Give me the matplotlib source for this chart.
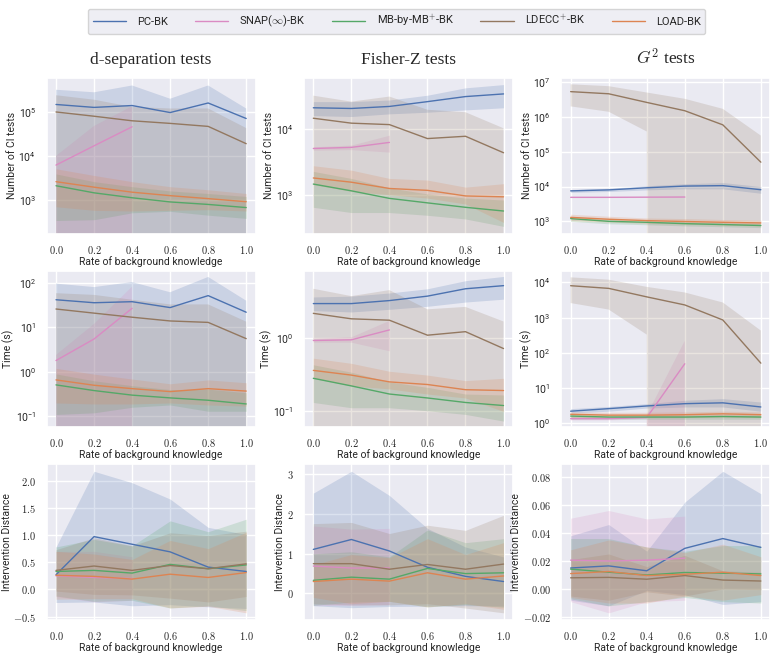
import matplotlib
matplotlib.use('Agg')
import matplotlib.pyplot as plt
import matplotlib.ticker as mticker
import seaborn as sns
import numpy as np

rate = [0.0, 0.2, 0.4, 0.6, 0.8, 1.0]
methods = ['PC-BK', 'SNAP($\\infty$)-BK', 'MB-by-MB$^{+}$-BK', 'LDECC$^{+}$-BK', 'LOAD-BK']
keys = ['pc', 'snap', 'mb', 'ldecc', 'load']

# each entry: (mean, lower, upper); 0 in a log panel means the band runs off the bottom
dsep_ci = {
    'pc':    ([1.48e5, 1.27e5, 1.4e5, 9.7e4, 1.6e5, 7.1e4], [0, 0, 0, 0, 0, 0], [3.2e5, 2.8e5, 4.0e5, 2.0e5, 4.0e5, 1.2e5]),
    'snap':  ([6.2e3, 1.7e4, 4.6e4], [0, 0, 0], [1.0e4, 4.8e4, 1.35e5]),
    'mb':    ([2.1e3, 1.45e3, 1.12e3, 900, 790, 670], [340, 355, 510, 550, 450, 380], [3.9e3, 2.6e3, 2.0e3, 1.6e3, 1.4e3, 1.2e3]),
    'ldecc': ([1.0e5, 8.0e4, 6.3e4, 5.5e4, 4.7e4, 1.9e4], [0, 0, 0, 0, 0, 0], [2.4e5, 1.9e5, 1.3e5, 1.2e5, 1.2e5, 4.3e4]),
    'load':  ([2.6e3, 1.95e3, 1.5e3, 1.25e3, 1.07e3, 910], [700, 580, 560, 580, 600, 560], [5.1e3, 3.6e3, 2.6e3, 2.0e3, 1.7e3, 1.4e3]),
}
fz_ci = {
    'pc':    ([2.1e4, 2.05e4, 2.2e4, 2.6e4, 3.1e4, 3.4e4], [1.6e4, 1.55e4, 1.7e4, 1.8e4, 1.95e4, 2.1e4], [2.6e4, 2.6e4, 2.75e4, 3.25e4, 4.2e4, 4.7e4]),
    'snap':  ([5.1e3, 5.3e3, 6.3e3], [4.8e3, 4.9e3, 4.5e3], [5.4e3, 5.75e3, 8.1e3]),
    'mb':    ([1.48e3, 1.17e3, 900, 770, 660, 580], [660, 550, 550, 500, 440, 340], [2.3e3, 1.8e3, 1.3e3, 1.05e3, 910, 850]),
    'ldecc': ([1.46e4, 1.23e4, 1.17e4, 7.2e3, 7.8e3, 4.4e3], [0, 0, 0, 0, 0, 0], [3.2e4, 2.6e4, 3.1e4, 1.96e4, 1.8e4, 1.03e4]),
    'load':  ([1.83e3, 1.58e3, 1.27e3, 1.19e3, 980, 950], [1.45e3, 1.15e3, 1.02e3, 910, 740, 390], [2.8e3, 2.4e3, 1.8e3, 1.7e3, 1.33e3, 1.5e3]),
}
g2_ci = {
    'pc':    ([7.5e3, 8.0e3, 9.2e3, 1.03e4, 1.06e4, 8.1e3], [6.8e3, 7.2e3, 8.0e3, 8.6e3, 8.6e3, 6.4e3], [8.2e3, 8.9e3, 1.05e4, 1.2e4, 1.3e4, 1.0e4]),
    'snap':  ([4.9e3, 4.9e3, 4.95e3, 5.0e3], [4.8e3, 4.8e3, 4.85e3, 4.9e3], [5.0e3, 5.0e3, 5.05e3, 5.1e3]),
    'mb':    ([1.2e3, 1.0e3, 940, 860, 810, 760], [1.0e3, 850, 800, 740, 700, 660], [1.4e3, 1.15e3, 1.08e3, 980, 920, 860]),
    'ldecc': ([5.3e6, 4.6e6, 2.6e6, 1.5e6, 5.9e5, 5.0e4], [2.0e6, 1.4e6, 3.8e5, 0, 0, 0], [8.6e6, 7.6e6, 5.0e6, 3.3e6, 1.7e6, 2.9e5]),
    'load':  ([1.3e3, 1.15e3, 1.05e3, 990, 940, 900], [1.05e3, 950, 870, 830, 780, 740], [1.6e3, 1.4e3, 1.25e3, 1.2e3, 1.13e3, 1.08e3]),
}
dsep_time = {
    'pc':    ([42, 36, 38, 28, 52, 22], [0, 0, 0, 0, 0, 0], [97, 81, 105, 62, 137, 40]),
    'snap':  ([1.8, 5.5, 27], [0, 0, 0], [2.4, 12, 83]),
    'mb':    ([0.51, 0.38, 0.30, 0.26, 0.23, 0.19], [0.11, 0.12, 0.16, 0.18, 0.13, 0.13], [0.9, 0.63, 0.49, 0.40, 0.41, 0.34]),
    'ldecc': ([26, 21, 17, 14, 13, 5.6], [0, 0, 0, 0, 0, 0], [59, 54, 42, 33, 33, 13.5]),
    'load':  ([0.66, 0.5, 0.42, 0.36, 0.42, 0.37], [0.2, 0.19, 0.19, 0.2, 0.18, 0.17], [1.2, 0.89, 0.69, 0.54, 0.66, 0.57]),
}
fz_time = {
    'pc':    ([3.0, 3.0, 3.3, 3.8, 4.8, 5.3], [2.4, 2.3, 2.5, 2.75, 3.15, 3.45], [3.7, 3.8, 4.2, 4.8, 6.2, 7.1]),
    'snap':  ([0.93, 0.95, 1.3], [0.88, 0.88, 0.67], [1.0, 1.05, 1.77]),
    'mb':    ([0.28, 0.22, 0.17, 0.15, 0.13, 0.118], [0.13, 0.11, 0.11, 0.10, 0.089, 0.072], [0.43, 0.34, 0.25, 0.21, 0.17, 0.165]),
    'ldecc': ([2.2, 1.85, 1.77, 1.1, 1.23, 0.72], [0, 0, 0, 0, 0, 0], [4.8, 3.8, 4.6, 2.5, 2.7, 1.7]),
    'load':  ([0.36, 0.31, 0.25, 0.23, 0.195, 0.19], [0.28, 0.22, 0.20, 0.17, 0.15, 0.098], [0.53, 0.45, 0.35, 0.31, 0.26, 0.28]),
}
g2_time = {
    'pc':    ([2.2, 2.6, 3.1, 3.6, 3.8, 2.9], [1.96, 2.2, 2.7, 2.9, 2.9, 2.2], [2.6, 3.0, 3.6, 4.5, 5.0, 4.0]),
    'snap':  ([1.35, 1.35, 1.45, 49], [1.2, 1.2, 1.3, 0], [1.5, 1.5, 1.7, 220]),
    'mb':    ([1.6, 1.5, 1.5, 1.5, 1.55, 1.5], [1.3, 1.3, 1.3, 1.3, 1.3, 1.3], [1.8, 1.75, 1.75, 1.75, 1.8, 1.75]),
    'ldecc': ([8100, 6800, 3900, 2300, 860, 51], [2600, 1700, 330, 0, 0, 0], [1.4e4, 1.2e4, 7500, 5200, 2700, 430]),
    'load':  ([1.8, 1.7, 1.7, 1.75, 1.85, 1.75], [1.45, 1.45, 1.45, 1.45, 1.5, 1.45], [2.1, 2.05, 2.05, 2.1, 2.2, 2.1]),
}
dsep_dist = {
    'pc':    ([0.27, 0.97, 0.83, 0.69, 0.41, 0.33], [-0.24, -0.23, -0.30, -0.28, -0.32, -0.35], [0.78, 2.17, 1.96, 1.66, 1.14, 1.01]),
    'snap':  ([0.25, 0.22, 0.20], [-0.13, -0.23, -0.20], [0.70, 0.70, 0.60]),
    'mb':    ([0.33, 0.35, 0.30, 0.46, 0.38, 0.45], [-0.12, -0.22, -0.20, -0.34, -0.30, -0.39], [0.78, 0.92, 0.80, 1.26, 1.06, 1.29]),
    'ldecc': ([0.35, 0.43, 0.35, 0.44, 0.38, 0.47], [-0.03, -0.09, -0.10, -0.16, -0.23, -0.13], [0.73, 0.95, 0.80, 1.04, 0.99, 1.07]),
    'load':  ([0.26, 0.24, 0.19, 0.28, 0.22, 0.31], [-0.18, -0.17, -0.17, -0.34, -0.31, -0.43], [0.70, 0.65, 0.55, 0.90, 0.75, 1.05]),
}
fz_dist = {
    'pc':    ([1.11, 1.36, 1.07, 0.66, 0.43, 0.30], [-0.31, -0.36, -0.33, -0.32, -0.31, -0.32], [2.53, 3.08, 2.47, 1.64, 1.17, 0.92]),
    'snap':  ([0.69, 0.64, 0.64], [-0.30, -0.30, -0.28], [1.70, 1.62, 1.64]),
    'mb':    ([0.33, 0.41, 0.36, 0.63, 0.50, 0.52], [-0.30, -0.22, -0.20, -0.34, -0.28, -0.35], [1.0, 1.05, 0.92, 1.60, 1.28, 1.38]),
    'ldecc': ([0.75, 0.75, 0.61, 0.73, 0.61, 0.74], [-0.26, -0.29, -0.29, -0.26, -0.37, -0.49], [1.76, 1.79, 1.51, 1.72, 1.59, 1.97]),
    'load':  ([0.30, 0.36, 0.31, 0.52, 0.36, 0.44], [-0.10, -0.26, -0.20, -0.34, -0.26, -0.40], [0.72, 0.98, 0.90, 1.38, 0.98, 1.28]),
}
g2_dist = {
    'pc':    ([0.015, 0.0165, 0.013, 0.029, 0.036, 0.0297], [-0.008, -0.012, -0.001, -0.004, -0.011, -0.009], [0.038, 0.046, 0.027, 0.062, 0.084, 0.068]),
    'snap':  ([0.0206, 0.020, 0.0206, 0.022], [-0.009, -0.017, -0.009, -0.008], [0.0505, 0.056, 0.050, 0.052]),
    'mb':    ([0.0142, 0.012, 0.010, 0.0118, 0.0113, 0.0108], [-0.007, -0.012, -0.009, -0.006, -0.009, -0.010], [0.036, 0.036, 0.030, 0.027, 0.031, 0.031]),
    'ldecc': ([0.008, 0.0083, 0.007, 0.0096, 0.0064, 0.0057], [-0.005, -0.008, -0.002, -0.005, 0.0, -0.0005], [0.021, 0.025, 0.016, 0.024, 0.013, 0.012]),
    'load':  ([0.011, 0.0125, 0.0096, 0.0105, 0.012, 0.0096], [-0.006, -0.010, -0.010, -0.005, -0.008, -0.004], [0.028, 0.035, 0.030, 0.026, 0.032, 0.023]),
}

col_titles = ['d-separation tests', 'Fisher-Z tests', '$G^2$ tests']
row_labels = ['Number of CI tests', 'Time (s)', 'Intervention Distance']
panels = [[dsep_ci, fz_ci, g2_ci], [dsep_time, fz_time, g2_time], [dsep_dist, fz_dist, g2_dist]]
log_ylims = [[(170, 5.9e5), (263, 5.9e4), (440, 1.3e7)],
             [(0.058, 185), (0.06, 8.4), (0.79, 2.1e4)]]
dist_fmt = ['${x:.1f}$', '${x:.0f}$', '${x:.2f}$']

sns.set_theme(style='darkgrid')
plt.rcParams['mathtext.fontset'] = 'cm'
plt.rcParams['font.family'] = ['Roboto', 'DejaVu Sans']
pal = sns.color_palette('deep')
colors = {'pc': pal[0], 'snap': pal[6], 'mb': pal[2], 'ldecc': pal[5], 'load': pal[1]}

fig, axes = plt.subplots(3, 3, figsize=(7.75, 6.56), dpi=100)
fig.subplots_adjust(left=0.06, right=0.994, top=0.881, bottom=0.055, wspace=0.23, hspace=0.24)

for r in range(3):
    for c in range(3):
        ax = axes[r, c]
        data = panels[r][c]
        if r < 2:
            ax.set_yscale('log')
        for k in keys:
            mean, lo, hi = data[k]
            xs = rate[:len(mean)]
            ax.plot(xs, mean, color=colors[k], lw=1.0)
            ax.fill_between(xs, lo, hi, color=colors[k], alpha=0.2, lw=0)
        if r < 2:
            ax.set_ylim(*log_ylims[r][c])
            ax.yaxis.set_minor_locator(mticker.NullLocator())
        else:
            ax.yaxis.set_major_formatter(mticker.StrMethodFormatter(dist_fmt[c]))
        ax.set_xticks(rate)
        ax.xaxis.set_major_formatter(mticker.StrMethodFormatter('${x:.1f}$'))
        ax.tick_params(labelsize=7.5, pad=1.5)
        ax.set_xlabel('Rate of background knowledge', fontsize=7.5, labelpad=0)
        ax.set_ylabel(row_labels[r], fontsize=7.5, labelpad=1)
        if r == 0:
            ax.set_title(col_titles[c], fontsize=12.5, family='Liberation Serif', pad=10)

handles = [plt.Line2D([], [], color=colors[k], lw=1.0) for k in keys]
fig.legend(handles, methods, loc='upper center', ncol=5, fontsize=8,
           bbox_to_anchor=(0.512, 0.995), frameon=True, handlelength=3.0,
           columnspacing=2.4, handletextpad=1.0)

fig.savefig('out.png', dpi=100)
